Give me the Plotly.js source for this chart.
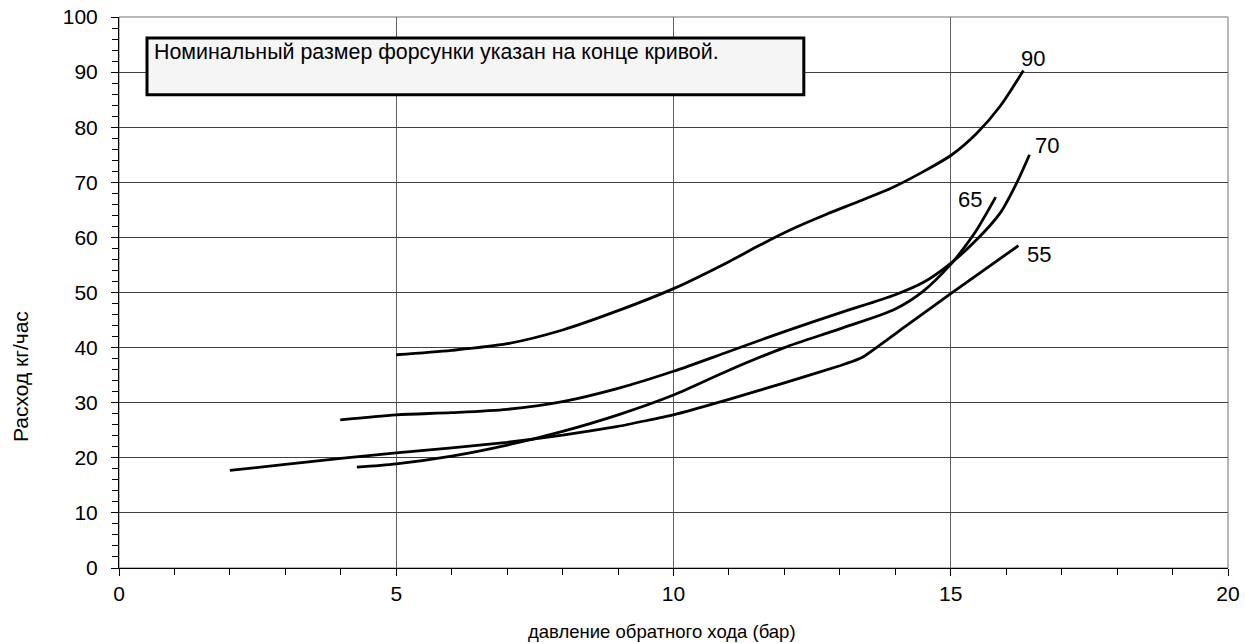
<!DOCTYPE html>
<html>
<head>
<meta charset="utf-8">
<script src="https://cdn.plot.ly/plotly-3.0.1.min.js"></script>
<style>html,body{margin:0;padding:0;background:#fff;}#chart{width:1245px;height:643px;}</style>
</head>
<body>
<div id="chart"></div>
<script>
// Nozzle 90
const x90 = [5.0, 6.0, 7.0, 8.0, 9.0, 10.0, 11.0, 11.56, 12.16, 12.76, 13.36, 13.96, 14.57, 15.02, 15.47, 15.89, 16.31];
const y90 = [38.7, 39.5, 40.7, 43.2, 46.7, 50.7, 55.6, 58.6, 61.6, 64.2, 66.6, 69.1, 72.3, 75.0, 78.9, 83.8, 90.3];
// Nozzle 70
const x70 = [3.99, 5.0, 6.0, 7.0, 8.0, 9.0, 10.0, 11.0, 12.0, 13.0, 14.0, 14.5, 15.0, 15.47, 15.89, 16.19, 16.42];
const y70 = [26.9, 27.8, 28.2, 28.8, 30.2, 32.6, 35.7, 39.3, 42.9, 46.3, 49.6, 51.8, 55.3, 59.6, 64.4, 69.9, 75.0];
// Nozzle 65
const x65 = [4.29, 5.0, 6.0, 7.0, 8.0, 9.0, 10.0, 11.0, 12.0, 13.0, 14.0, 14.5, 15.0, 15.17, 15.47, 15.81];
const y65 = [18.3, 18.9, 20.3, 22.3, 24.8, 27.8, 31.4, 35.9, 40.0, 43.4, 47.0, 50.2, 55.1, 57.2, 61.4, 67.3];
// Nozzle 55
const x55 = [2.0, 3.0, 4.0, 5.0, 6.0, 7.0, 8.0, 9.0, 10.0, 11.0, 12.0, 13.0, 13.4, 14.2, 15.0, 16.22];
const y55 = [17.7, 18.8, 19.9, 20.9, 21.8, 22.8, 24.1, 25.7, 27.8, 30.6, 33.6, 36.7, 38.2, 44.0, 49.8, 58.5];

const curveLabels = ['90', '70', '65', '55'];
const labelX = [16.48, 16.74, 15.34, 16.59];
const labelY = [92.5, 76.7, 66.8, 56.9];

const xTitle = 'давление обратного хода (бар)';
const yTitle = 'Расход кг/час';
const noteText = 'Номинальный размер форсунки указан на конце кривой.';

const FONT = 'Liberation Sans, Arial, sans-serif';
const series = [[x90, y90], [x70, y70], [x65, y65], [x55, y55]];
const traces = series.map(function (s, i) {
  return {
    x: s[0], y: s[1], type: 'scatter', mode: 'lines',
    line: {color: '#000', width: 2.8, shape: 'spline', smoothing: i === 3 ? 0.35 : 0.8},
    name: curveLabels[i], showlegend: false, hoverinfo: 'x+y'
  };
});

// pixel helpers for the placement of the free text (plot area 119..1228 x 17..568)
const L = 119, R = 17, T = 17, B = 75, W = 1245, H = 643;
const px2paperX = function (px) { return (px - L) / (W - L - R); };
const py2paperY = function (py) { return (H - B - py) / (H - T - B); };

const annotations = curveLabels.map(function (t, i) {
  return {x: labelX[i], y: labelY[i], xref: 'x', yref: 'y', text: t, showarrow: false,
          xanchor: 'center', yanchor: 'middle',
          font: {family: FONT, size: 22, color: '#000'}};
});
annotations.push({x: 0.6, y: 96.2, xref: 'x', yref: 'y', text: noteText, showarrow: false,
  xanchor: 'left', yanchor: 'top', font: {family: FONT, size: 21.4, color: '#000'}});
annotations.push({x: px2paperX(20), y: py2paperY(377), xref: 'paper', yref: 'paper', text: yTitle,
  showarrow: false, textangle: -90, xanchor: 'center', yanchor: 'middle',
  font: {family: FONT, size: 21, color: '#000'}});
annotations.push({x: px2paperX(662), y: py2paperY(631), xref: 'paper', yref: 'paper', text: xTitle,
  showarrow: false, xanchor: 'center', yanchor: 'middle',
  font: {family: FONT, size: 18.5, color: '#000'}});

const layout = {
  width: W, height: H,
  margin: {l: L, r: R, t: T, b: B},
  paper_bgcolor: '#fff', plot_bgcolor: '#fff',
  font: {family: FONT, color: '#000'},
  showlegend: false,
  xaxis: {
    range: [0, 20], dtick: 5, tick0: 0, showgrid: true, gridcolor: '#606060', gridwidth: 1,
    zeroline: false, showline: true, linecolor: '#000', linewidth: 1,
    ticks: 'outside', ticklen: 7, tickcolor: '#000', tickwidth: 1,
    tickfont: {family: FONT, size: 21, color: '#000'},
    minor: {dtick: 1, ticks: 'outside', ticklen: 6, tickcolor: '#000', showgrid: false}
  },
  yaxis: {
    range: [0, 100], dtick: 10, tick0: 0, showgrid: true, gridcolor: '#404040', gridwidth: 1,
    zeroline: false, showline: true, linecolor: '#000', linewidth: 1,
    ticks: 'outside', ticklen: 7, tickcolor: '#000', tickwidth: 1,
    ticklabelstandoff: 9,
    tickfont: {family: FONT, size: 21, color: '#000'},
    minor: {dtick: 2, ticks: 'outside', ticklen: 6, tickcolor: '#000', showgrid: false}
  },
  shapes: [
    {type: 'rect', xref: 'paper', yref: 'paper', x0: 0, x1: 1, y0: 0, y1: 1,
     line: {color: '#707070', width: 1}, fillcolor: 'rgba(0,0,0,0)', layer: 'below'},
    {type: 'rect', xref: 'x', yref: 'y', x0: 0.505, x1: 12.35, y0: 85.9, y1: 96.2,
     line: {color: '#000', width: 3}, fillcolor: '#f5f5f5', layer: 'above'}
  ],
  annotations: annotations
};

Plotly.newPlot('chart', traces, layout, {displayModeBar: false, staticPlot: true});
</script>
</body>
</html>
